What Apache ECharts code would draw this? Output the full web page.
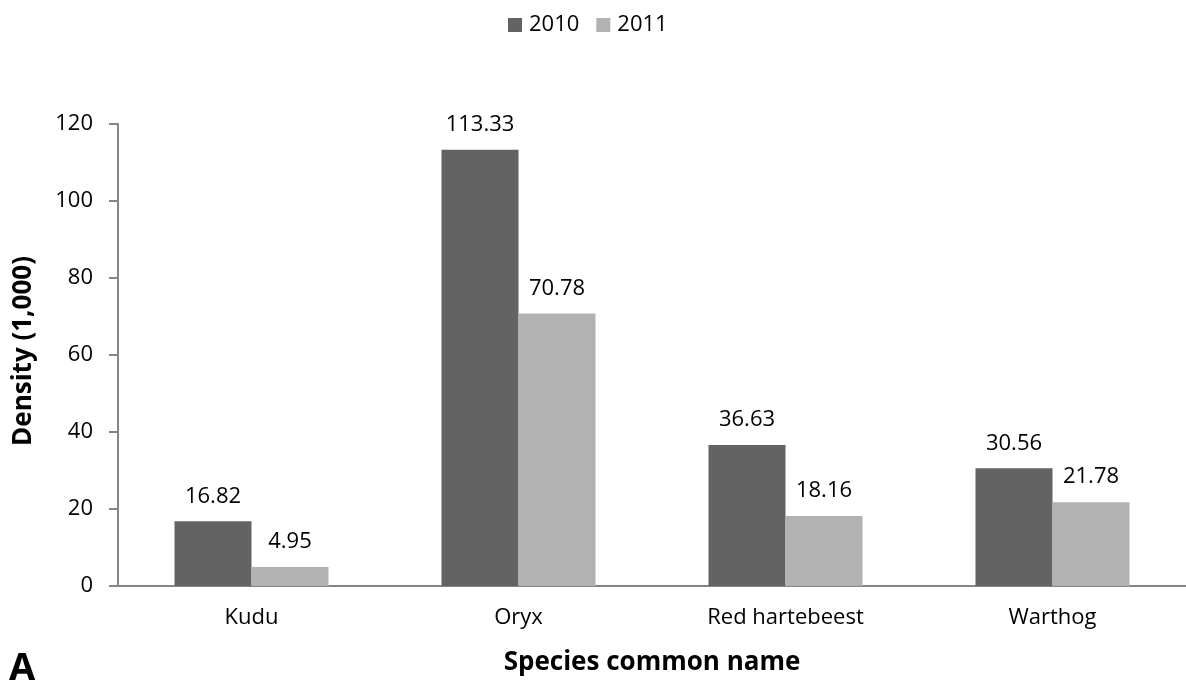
<!DOCTYPE html>
<html>
<head>
<meta charset="utf-8">
<script src="https://cdn.jsdelivr.net/npm/echarts@6/dist/echarts.min.js"></script>
<style>html,body{margin:0;padding:0;background:#fff}#c{width:1186px;height:683px}</style>
</head>
<body>
<div id="c"></div>
<script>
const categories = ["Kudu", "Oryx", "Red hartebeest", "Warthog"];
const values2010 = [16.82, 113.33, 36.63, 30.56];
const values2011 = [4.95, 70.78, 18.16, 21.78];
const yTicks = [0, 20, 40, 60, 80, 100, 120];

const FONT = "'Open Sans', 'Liberation Sans', sans-serif";
const chart = echarts.init(document.getElementById('c'));
const lbl = {show: true, position: 'top', distance: 14, color: '#000', fontSize: 22, fontFamily: FONT,
  formatter: p => p.value.toFixed(2)};
chart.setOption({
  animation: false,
  textStyle: {fontFamily: FONT},
  legend: {
    top: 9, left: 503, itemWidth: 14, itemHeight: 14, itemGap: 17,
    icon: 'rect',
    textStyle: {fontSize: 22, color: '#000', fontFamily: FONT, padding: [0, 0, 0, 2]},
    data: ['2010', '2011']
  },
  grid: {left: 118, right: 0, top: 124, bottom: 97, containLabel: false},
  xAxis: {
    type: 'category', data: categories,
    axisLine: {lineStyle: {color: '#868686', width: 2}},
    axisTick: {show: false},
    axisLabel: {fontSize: 22, color: '#000', margin: 21, fontFamily: FONT}
  },
  yAxis: {
    type: 'value', min: yTicks[0], max: yTicks[yTicks.length - 1], interval: 20,
    axisLine: {show: true, lineStyle: {color: '#868686', width: 2}},
    axisTick: {show: true, length: 9, lineStyle: {color: '#868686', width: 2}},
    splitLine: {show: false},
    axisLabel: {fontSize: 22, color: '#000', margin: 25, fontFamily: FONT}
  },
  graphic: [{
    type: 'text', x: 652, y: 663,
    style: {text: 'Species common name', fontSize: 26, fontWeight: 'bold', fill: '#000', fontFamily: FONT,
      textAlign: 'center', textVerticalAlign: 'middle'}
  }, {
    type: 'text', x: 24, y: 351, rotation: Math.PI / 2,
    style: {text: 'Density (1,000)', fontSize: 26, fontWeight: 'bold', fill: '#000', fontFamily: FONT,
      textAlign: 'center', textVerticalAlign: 'middle'}
  }, {
    type: 'text', x: 9, y: 669,
    style: {text: 'A', fontSize: 38, fontWeight: 'bold', fill: '#000', fontFamily: FONT,
      textAlign: 'left', textVerticalAlign: 'middle'}
  }],
  series: [
    {name: '2010', type: 'bar', data: values2010, barWidth: 77, barGap: '0%',
     itemStyle: {color: '#636363'}, label: lbl},
    {name: '2011', type: 'bar', data: values2011, barWidth: 77, barGap: '0%',
     itemStyle: {color: '#b2b2b2'}, label: lbl}
  ]
});
</script>
</body>
</html>
